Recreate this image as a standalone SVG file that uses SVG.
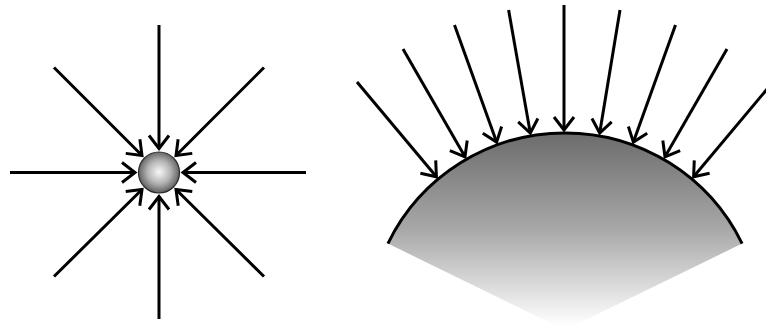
<svg xmlns="http://www.w3.org/2000/svg" width="766" height="326" viewBox="0 0 766 326">
  <defs>
    <style>
      .ray { stroke: #000; stroke-width: 3; fill: none; marker-end: url(#vhead); }
    </style>
    <marker id="vhead" markerUnits="userSpaceOnUse" markerWidth="40" markerHeight="40" refX="0" refY="0" orient="auto" overflow="visible">
      <path d="M-13,-10 L0,0 L-13,10" fill="none" stroke="#000" stroke-width="3" stroke-linejoin="miter"/>
    </marker>
    <radialGradient id="ballGrad" cx="159" cy="172" r="21" gradientUnits="userSpaceOnUse">
      <stop offset="0" stop-color="#f7f7f7"/>
      <stop offset="0.55" stop-color="#b4b4b4"/>
      <stop offset="1" stop-color="#5e5e5e"/>
    </radialGradient>
    <linearGradient id="sectorGrad" x1="0" y1="133" x2="0" y2="326" gradientUnits="userSpaceOnUse">
      <stop offset="0" stop-color="#6c6c6c"/>
      <stop offset="0.5" stop-color="#a8a8a8"/>
      <stop offset="1" stop-color="#ffffff"/>
    </linearGradient>
  </defs>

  <g id="point-source">
    <circle cx="159" cy="172.5" r="20.5" fill="url(#ballGrad)" stroke="#2a2a2a" stroke-width="1.2"/>
  </g>

  <g id="surface">
    <path d="M565,330 L387.9,243.6 A197,197 0 0 1 742.1,243.6 Z" fill="url(#sectorGrad)" stroke="none"/>
    <path d="M387.9,243.6 A197,197 0 0 1 742.1,243.6" fill="none" stroke="#000" stroke-width="3"/>
  </g>

  <g id="connectors">
    <line class="ray" x1="159" y1="25" x2="159" y2="148.5"/>
    <line class="ray" x1="159" y1="319" x2="159" y2="196.5"/>
    <line class="ray" x1="10" y1="172.5" x2="135" y2="172.5"/>
    <line class="ray" x1="306" y1="172.5" x2="183" y2="172.5"/>
    <line class="ray" x1="54" y1="67.5" x2="142" y2="155.5"/>
    <line class="ray" x1="264" y1="67.5" x2="176" y2="155.5"/>
    <line class="ray" x1="54" y1="276.5" x2="142" y2="189.5"/>
    <line class="ray" x1="264" y1="276.5" x2="176" y2="189.5"/>
    <line class="ray" x1="357" y1="82" x2="436.4" y2="176.8"/>
    <line class="ray" x1="403" y1="49" x2="465" y2="156.8"/>
    <line class="ray" x1="454.5" y1="25" x2="496.6" y2="142.1"/>
    <line class="ray" x1="508.6" y1="10" x2="530.3" y2="133"/>
    <line class="ray" x1="564" y1="5" x2="564" y2="130"/>
    <line class="ray" x1="620" y1="10" x2="599.7" y2="133"/>
    <line class="ray" x1="675.5" y1="25" x2="633.4" y2="142.1"/>
    <line class="ray" x1="727" y1="49" x2="665" y2="156.8"/>
    <line class="ray" x1="773" y1="82" x2="693.6" y2="176.8"/>
  </g>
</svg>
